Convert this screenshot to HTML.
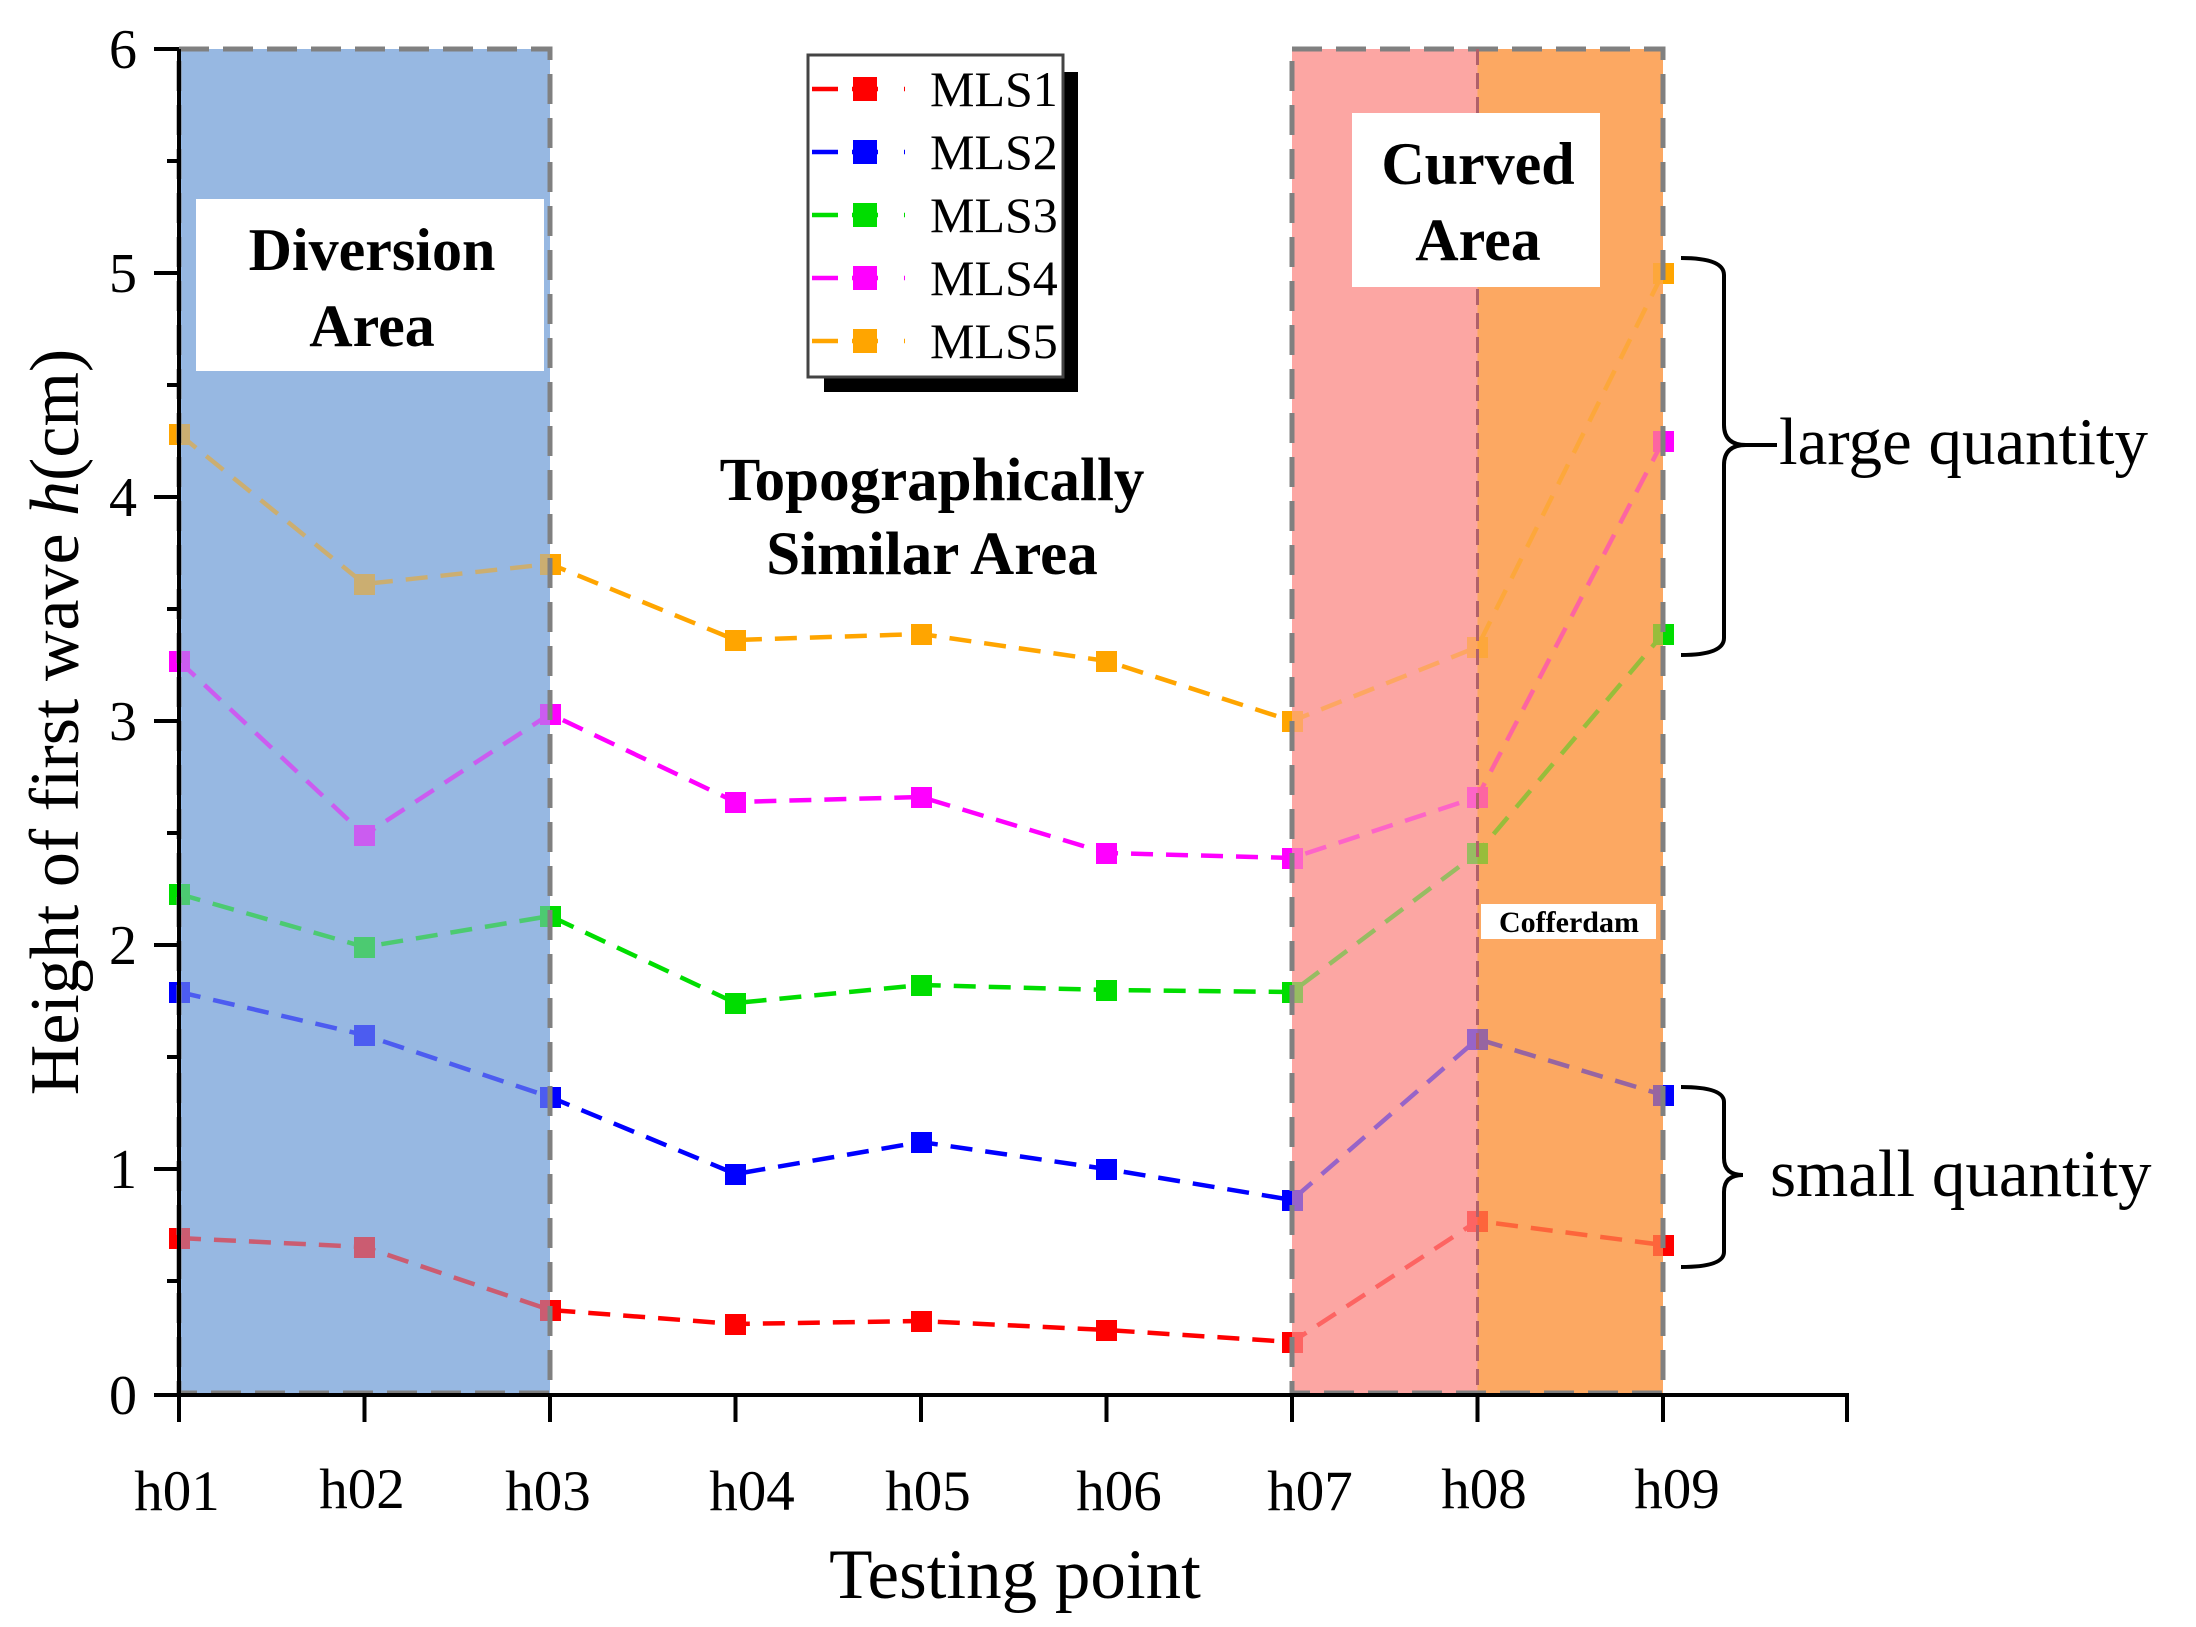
<!DOCTYPE html>
<html><head><meta charset="utf-8"><style>
html,body{margin:0;padding:0;background:#fff}
svg{display:block}
text{font-family:"Liberation Serif",serif;fill:#000}
</style></head><body>
<svg width="2196" height="1627" viewBox="0 0 2196 1627" xmlns="http://www.w3.org/2000/svg">
<rect x="179" y="49" width="371" height="1344" fill="#97b8e2"/>
<rect x="1292" y="49" width="185.5" height="1344" fill="#fca6a4"/>
<rect x="1477.5" y="49" width="185.5" height="1344" fill="#fca862"/>

<g stroke-width="4.5" stroke-dasharray="22,13" fill="none">
<polyline stroke="#ff0000" points="179,1238 364.5,1247 550,1310 735.5,1324 921,1321 1106.5,1330 1292,1342 1477.5,1221 1663,1245"/>
<polyline stroke="#0000ff" points="179,992 364.5,1035 550,1097 735.5,1174 921,1142 1106.5,1169 1292,1200 1477.5,1039 1663,1095"/>
<polyline stroke="#00dd00" points="179,894 364.5,947 550,916 735.5,1003 921,985 1106.5,990 1292,992 1477.5,853 1663,634"/>
<polyline stroke="#ff00ff" points="179,661 364.5,835 550,714 735.5,802 921,797 1106.5,853 1292,858 1477.5,797 1663,441"/>
<polyline stroke="#ffa500" points="179,434 364.5,584 550,564 735.5,640 921,634 1106.5,661 1292,721 1477.5,647 1663,273"/>
</g>
<g fill="#ff0000"><rect x="169" y="1228" width="21" height="21"/><rect x="354" y="1237" width="21" height="21"/><rect x="540" y="1300" width="21" height="21"/><rect x="725" y="1314" width="21" height="21"/><rect x="911" y="1311" width="21" height="21"/><rect x="1096" y="1320" width="21" height="21"/><rect x="1282" y="1332" width="21" height="21"/><rect x="1467" y="1211" width="21" height="21"/><rect x="1653" y="1235" width="21" height="21"/></g>
<g fill="#0000ff"><rect x="169" y="982" width="21" height="21"/><rect x="354" y="1025" width="21" height="21"/><rect x="540" y="1087" width="21" height="21"/><rect x="725" y="1164" width="21" height="21"/><rect x="911" y="1132" width="21" height="21"/><rect x="1096" y="1159" width="21" height="21"/><rect x="1282" y="1190" width="21" height="21"/><rect x="1467" y="1029" width="21" height="21"/><rect x="1653" y="1085" width="21" height="21"/></g>
<g fill="#00dd00"><rect x="169" y="884" width="21" height="21"/><rect x="354" y="937" width="21" height="21"/><rect x="540" y="906" width="21" height="21"/><rect x="725" y="993" width="21" height="21"/><rect x="911" y="975" width="21" height="21"/><rect x="1096" y="980" width="21" height="21"/><rect x="1282" y="982" width="21" height="21"/><rect x="1467" y="843" width="21" height="21"/><rect x="1653" y="624" width="21" height="21"/></g>
<g fill="#ff00ff"><rect x="169" y="651" width="21" height="21"/><rect x="354" y="825" width="21" height="21"/><rect x="540" y="704" width="21" height="21"/><rect x="725" y="792" width="21" height="21"/><rect x="911" y="787" width="21" height="21"/><rect x="1096" y="843" width="21" height="21"/><rect x="1282" y="848" width="21" height="21"/><rect x="1467" y="787" width="21" height="21"/><rect x="1653" y="431" width="21" height="21"/></g>
<g fill="#ffa500"><rect x="169" y="424" width="21" height="21"/><rect x="354" y="574" width="21" height="21"/><rect x="540" y="554" width="21" height="21"/><rect x="725" y="630" width="21" height="21"/><rect x="911" y="624" width="21" height="21"/><rect x="1096" y="651" width="21" height="21"/><rect x="1282" y="711" width="21" height="21"/><rect x="1467" y="637" width="21" height="21"/><rect x="1653" y="263" width="21" height="21"/></g>

<rect x="179" y="49" width="371" height="1344" fill="#97b8e2" opacity="0.5"/>
<rect x="1292" y="49" width="185.5" height="1344" fill="#fca6a4" opacity="0.6"/>
<rect x="1477.5" y="49" width="185.5" height="1344" fill="#fca862" opacity="0.6"/>

<g fill="none" stroke="#808080" stroke-width="5" stroke-dasharray="30,14">
<rect x="179" y="49" width="371" height="1344"/>
<rect x="1292" y="49" width="371" height="1344"/>
</g>
<line x1="1477.5" y1="49" x2="1477.5" y2="1393" stroke="#b0606a" stroke-width="3" stroke-dasharray="16,8"/>

<rect x="196" y="199" width="348" height="172" fill="#fff"/>
<text x="372" y="270" font-size="60" font-weight="bold" text-anchor="middle">Diversion</text>
<text x="372" y="346" font-size="60" font-weight="bold" text-anchor="middle">Area</text>
<rect x="1352" y="113" width="248" height="174" fill="#fff"/>
<text x="1478" y="184" font-size="60" font-weight="bold" text-anchor="middle">Curved</text>
<text x="1478" y="260" font-size="60" font-weight="bold" text-anchor="middle">Area</text>
<rect x="1481" y="904" width="175" height="35" fill="#fff"/>
<text x="1569" y="932" font-size="30" font-weight="bold" text-anchor="middle">Cofferdam</text>
<text x="932" y="500" font-size="61" font-weight="bold" text-anchor="middle">Topographically</text>
<text x="932" y="574" font-size="61" font-weight="bold" text-anchor="middle">Similar Area</text>

<g stroke="#000" stroke-width="4">
<line x1="179" y1="49" x2="179" y2="1395"/>
<line x1="177" y1="1395" x2="1847" y2="1395"/>
<line x1="1847" y1="1393" x2="1847" y2="1422"/>
<line x1="154" y1="49" x2="179" y2="49"/><line x1="154" y1="273" x2="179" y2="273"/><line x1="154" y1="497" x2="179" y2="497"/><line x1="154" y1="721" x2="179" y2="721"/><line x1="154" y1="945" x2="179" y2="945"/><line x1="154" y1="1169" x2="179" y2="1169"/><line x1="154" y1="1395" x2="179" y2="1395"/>
<line x1="167" y1="161" x2="179" y2="161"/><line x1="167" y1="385" x2="179" y2="385"/><line x1="167" y1="609" x2="179" y2="609"/><line x1="167" y1="833" x2="179" y2="833"/><line x1="167" y1="1057" x2="179" y2="1057"/><line x1="167" y1="1281" x2="179" y2="1281"/>
<line x1="179" y1="1395" x2="179" y2="1422"/><line x1="364.5" y1="1395" x2="364.5" y2="1422"/><line x1="550" y1="1395" x2="550" y2="1422"/><line x1="735.5" y1="1395" x2="735.5" y2="1422"/><line x1="921" y1="1395" x2="921" y2="1422"/><line x1="1106.5" y1="1395" x2="1106.5" y2="1422"/><line x1="1292" y1="1395" x2="1292" y2="1422"/><line x1="1477.5" y1="1395" x2="1477.5" y2="1422"/><line x1="1663" y1="1395" x2="1663" y2="1422"/>
</g>
<g font-size="56" text-anchor="end">
<text x="137" y="68">6</text><text x="137" y="292">5</text><text x="137" y="516">4</text><text x="137" y="740">3</text><text x="137" y="964">2</text><text x="137" y="1188">1</text><text x="137" y="1414">0</text>
</g>
<g font-size="57" text-anchor="middle">
<text x="177" y="1510">h01</text><text x="362" y="1508">h02</text><text x="548" y="1510">h03</text><text x="752" y="1510">h04</text><text x="928" y="1510">h05</text><text x="1119" y="1510">h06</text><text x="1310" y="1510">h07</text><text x="1484" y="1508">h08</text><text x="1677" y="1508">h09</text>
</g>
<text x="1015" y="1598" font-size="71" text-anchor="middle">Testing point</text>
<text transform="translate(78,722) rotate(-90)" font-size="70" text-anchor="middle">Height of first wave <tspan font-style="italic">h</tspan>(cm)</text>

<rect x="824" y="72" width="254" height="320" fill="#000"/>
<rect x="808" y="55" width="255" height="322" fill="#fff" stroke="#444" stroke-width="3"/>
<g stroke-width="4.5">
<line x1="812" y1="89" x2="905" y2="89" stroke="#ff0000" stroke-dasharray="26,14,26"/>
<line x1="812" y1="152" x2="905" y2="152" stroke="#0000ff" stroke-dasharray="26,14,26"/>
<line x1="812" y1="215" x2="905" y2="215" stroke="#00dd00" stroke-dasharray="26,14,26"/>
<line x1="812" y1="278" x2="905" y2="278" stroke="#ff00ff" stroke-dasharray="26,14,26"/>
<line x1="812" y1="341" x2="905" y2="341" stroke="#ffa500" stroke-dasharray="26,14,26"/>
</g>
<rect x="853" y="77" width="24" height="24" fill="#ff0000"/>
<rect x="853" y="140" width="24" height="24" fill="#0000ff"/>
<rect x="853" y="203" width="24" height="24" fill="#00dd00"/>
<rect x="853" y="266" width="24" height="24" fill="#ff00ff"/>
<rect x="853" y="329" width="24" height="24" fill="#ffa500"/>
<g font-size="50">
<text x="930" y="106">MLS1</text><text x="930" y="169">MLS2</text><text x="930" y="232">MLS3</text><text x="930" y="295">MLS4</text><text x="930" y="358">MLS5</text>
</g>

<g fill="none" stroke="#000" stroke-width="4">
<path d="M1681,258 Q1724,258 1724,275 L1724,425 Q1724,445 1746,445 Q1724,445 1724,465 L1724,638 Q1724,655 1681,655"/>
<path d="M1681,1087 Q1724,1087 1724,1102 L1724,1158 Q1724,1175 1743,1175 Q1724,1175 1724,1192 L1724,1252 Q1724,1267 1681,1267"/>
<line x1="1743" y1="445" x2="1777" y2="445"/>
</g>
<text x="1779" y="464" font-size="67">large quantity</text>
<text x="1770" y="1196" font-size="67">small quantity</text>
</svg>
</body></html>
